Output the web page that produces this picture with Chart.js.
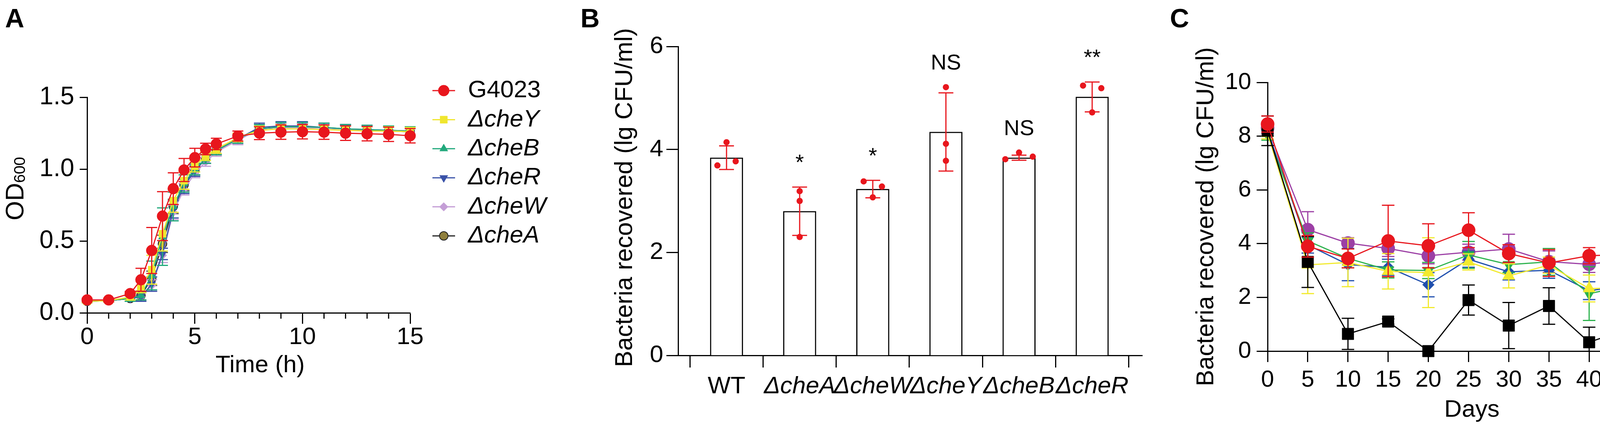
<!DOCTYPE html>
<html>
<head>
<meta charset="utf-8">
<script src="https://cdn.jsdelivr.net/npm/chart.js@4.4.0/dist/chart.umd.min.js"></script>
<style>
  body { margin: 0; background: #fff; width: 4562px; height: 1101px; overflow: hidden; position: relative; }
  canvas { position: absolute; top: 0; }
  .panel { position: absolute; top: 12px; font: bold 68px 'Liberation Sans', Arial, sans-serif; line-height: 1; }
</style>
</head>
<body>
<div class="panel" style="left:13px">A</div>
<div class="panel" style="left:1486px">B</div>
<div class="panel" style="left:2995px">C</div>
<canvas id="chartA" width="1480" height="1101" style="left:0px"></canvas>
<canvas id="chartB" width="1520" height="1101" style="left:1480px"></canvas>
<canvas id="chartC" width="1562" height="1101" style="left:3000px"></canvas>
<script>
const FONT = "'Liberation Sans', Arial, sans-serif";

// ---- panel A: growth curves ----
const timeA = [0, 1, 2, 2.5, 3, 3.5, 4, 4.5, 5, 5.5, 6, 7, 8, 9, 10, 11, 12, 13, 14, 15];
const xTicksA = [0, 5, 10, 15];
const yTicksA = [0, 0.5, 1.0, 1.5];
const yTickLabelsA = ['0.0', '0.5', '1.0', '1.5'];
const odG4023 = [0.09, 0.09, 0.134, 0.23, 0.434, 0.673, 0.864, 0.994, 1.08, 1.14, 1.175, 1.23, 1.25, 1.257, 1.26, 1.257, 1.25, 1.246, 1.242, 1.232];
const sdG4023 = [0.01, 0.01, 0.015, 0.08, 0.16, 0.17, 0.11, 0.08, 0.065, 0.04, 0.04, 0.035, 0.045, 0.05, 0.05, 0.05, 0.05, 0.05, 0.05, 0.05];
const odCheY = [0.08, 0.085, 0.11, 0.18, 0.30, 0.55, 0.78, 0.92, 1.02, 1.09, 1.14, 1.22, 1.27, 1.28, 1.28, 1.275, 1.27, 1.265, 1.265, 1.26];
const sdCheY = [0.01, 0.01, 0.02, 0.04, 0.10, 0.12, 0.08, 0.06, 0.04, 0.03, 0.03, 0.03, 0.03, 0.03, 0.03, 0.03, 0.03, 0.03, 0.03, 0.03];
const odCheB = [0.08, 0.085, 0.10, 0.12, 0.26, 0.53, 0.74, 0.90, 1.00, 1.07, 1.13, 1.21, 1.28, 1.295, 1.295, 1.29, 1.28, 1.275, 1.27, 1.265];
const sdCheB = [0.01, 0.01, 0.02, 0.03, 0.10, 0.20, 0.10, 0.06, 0.04, 0.03, 0.03, 0.03, 0.03, 0.03, 0.03, 0.03, 0.03, 0.03, 0.03, 0.03];
const odCheR = [0.08, 0.085, 0.10, 0.11, 0.20, 0.41, 0.72, 0.88, 0.99, 1.07, 1.13, 1.21, 1.29, 1.30, 1.30, 1.29, 1.28, 1.275, 1.27, 1.265];
const sdCheR = [0.01, 0.01, 0.02, 0.03, 0.05, 0.04, 0.06, 0.05, 0.04, 0.03, 0.03, 0.03, 0.03, 0.03, 0.03, 0.03, 0.03, 0.03, 0.03, 0.03];
const odCheW = [0.08, 0.085, 0.10, 0.11, 0.19, 0.40, 0.70, 0.86, 0.97, 1.05, 1.12, 1.20, 1.28, 1.29, 1.29, 1.285, 1.28, 1.27, 1.265, 1.26];
const sdCheW = [0.01, 0.01, 0.02, 0.03, 0.04, 0.05, 0.05, 0.04, 0.03, 0.03, 0.03, 0.03, 0.03, 0.03, 0.03, 0.03, 0.03, 0.03, 0.03, 0.03];
const odCheA = [0.08, 0.085, 0.10, 0.12, 0.24, 0.48, 0.74, 0.89, 0.99, 1.07, 1.13, 1.21, 1.28, 1.29, 1.29, 1.285, 1.28, 1.27, 1.265, 1.26];
const sdCheA = [0.01, 0.01, 0.02, 0.03, 0.05, 0.06, 0.05, 0.04, 0.03, 0.03, 0.03, 0.03, 0.03, 0.03, 0.03, 0.03, 0.03, 0.03, 0.03, 0.03];

// ---- panel B: bars with replicates ----
const strainsB = ['WT', 'ΔcheA', 'ΔcheW', 'ΔcheY', 'ΔcheB', 'ΔcheR'];
const meanB = [3.84, 2.80, 3.23, 4.34, 3.84, 5.02];
const sdB = [0.23, 0.47, 0.17, 0.76, 0.05, 0.29];
const repB = [[4.14, 3.69, 3.77], [3.19, 3.00, 2.30], [3.38, 3.28, 3.07], [5.21, 4.11, 3.78], [3.81, 3.94, 3.86], [5.24, 5.19, 4.72]];
const jitterB = [[0, -1, 1], [0, 0, 0], [-1, 1, 0], [0, 0, 0], [-1.5, 0, 1.5], [-1, 1, 0]];
const sigB = ['', '*', '*', 'NS', 'NS', '**'];
const yTicksB = [0, 2, 4, 6];

// ---- panel C: survival over days ----
const daysC = [0, 5, 10, 15, 20, 25, 30, 35, 40, 45, 50];
const yTicksC = [0, 2, 4, 6, 8, 10];
const cfuG4023 = [8.45, 3.90, 3.45, 4.10, 3.92, 4.50, 3.63, 3.28, 3.55, 3.60, 3.58];
const errG4023 = [0.30, 0.40, 0.35, 1.33, 0.82, 0.65, 0.33, 0.50, 0.30, 0.25, 0.40];
const cfuCheA = [8.20, 3.32, 0.64, 1.10, 0.00, 1.90, 0.95, 1.68, 0.33, 0.85, 0.65];
const errCheA = [0.55, 0.95, 0.58, 0.10, 0, 0.56, 0.86, 0.68, 0.56, 0.74, 0.58];
const cfuCheW = [8.10, 3.21, 3.30, 2.97, 2.92, 3.32, 2.80, 3.20, 2.33, 2.36, 1.71];
const errCheW = [0.20, 1.07, 0.90, 0.66, 1.30, 0.30, 0.45, 0.30, 0.50, 0.50, 0.30];
const cfuCheY = [8.05, 4.10, 3.45, 3.02, 3.00, 3.58, 3.22, 3.32, 2.14, 2.45, 2.60];
const errCheY = [0.20, 0.30, 0.35, 0.30, 0.30, 0.50, 0.30, 0.50, 1.00, 0.57, 0.40];
const cfuCheB = [8.20, 3.95, 3.22, 3.12, 2.47, 3.42, 2.95, 3.01, 2.25, 2.44, 1.99];
const errCheB = [0.20, 0.30, 0.60, 0.30, 0.45, 0.30, 0.30, 0.30, 0.33, 0.30, 0.35];
const cfuCheR = [8.30, 4.52, 4.02, 3.82, 3.55, 3.68, 3.80, 3.33, 3.23, 3.42, 3.37];
const errCheR = [0.20, 0.67, 0.20, 0.30, 0.30, 0.30, 0.55, 0.40, 0.30, 0.30, 0.85];

const toXY = (xs, ys) => xs.map((x, i) => ({ x: x, y: ys[i] }));

// error bars drawn just before (or after) their dataset
function drawErrors(chart, ds) {
  const xs = chart.scales.x, ys = chart.scales.y, ctx = chart.ctx;
  const half = ds.errorCap;
  ctx.save();
  ctx.strokeStyle = ds.errorColor || ds.borderColor;
  ctx.lineWidth = 3;
  ds.errors.forEach((e, i) => {
    if (!e) return;
    const p = ds.data[i];
    const x = xs.getPixelForValue(p.x);
    const yTop = ys.getPixelForValue(p.y + e);
    let low = p.y - e;
    const cut = low < ys.min;
    if (cut) low = ys.min;
    const yBot = ys.getPixelForValue(low);
    ctx.beginPath();
    ctx.moveTo(x, yTop); ctx.lineTo(x, yBot);
    ctx.moveTo(x - half, yTop); ctx.lineTo(x + half, yTop);
    if (!cut) { ctx.moveTo(x - half, yBot); ctx.lineTo(x + half, yBot); }
    ctx.stroke();
  });
  ctx.restore();
}
const errorBars = {
  id: 'errorBars',
  beforeDatasetDraw(chart, args) {
    const ds = chart.data.datasets[args.index];
    if (ds.errors && !ds.errorAfter) drawErrors(chart, ds);
  },
  afterDatasetDraw(chart, args) {
    const ds = chart.data.datasets[args.index];
    if (ds.errors && ds.errorAfter) drawErrors(chart, ds);
  }
};

// legend: short line with marker, then label
const lineLegend = {
  id: 'lineLegend',
  afterDraw(chart, args, opts) {
    const ctx = chart.ctx;
    chart.data.datasets.forEach((ds, i) => {
      const y = opts.y0 + i * opts.dy;
      ctx.save();
      ctx.strokeStyle = ds.borderColor;
      ctx.lineWidth = 3;
      ctx.beginPath();
      ctx.moveTo(opts.x - opts.half, y); ctx.lineTo(opts.x + opts.half, y);
      ctx.stroke();
      ctx.fillStyle = ds.pointBackgroundColor;
      ctx.strokeStyle = ds.pointBorderColor;
      ctx.lineWidth = ds.pointBorderWidth;
      Chart.helpers.drawPoint(ctx, {
        pointStyle: ds.pointStyle, radius: ds.pointRadius,
        rotation: ds.pointRotation || 0, borderWidth: ds.pointBorderWidth
      }, opts.x, y);
      ctx.fillStyle = '#000';
      ctx.font = (ds.label.startsWith('Δ') ? 'italic ' : '') + opts.size + 'px ' + FONT;
      ctx.textAlign = 'left';
      ctx.textBaseline = 'middle';
      ctx.fillText(ds.label, opts.textX, y);
      ctx.restore();
    });
  }
};

function axisStyle(tickLen, pad, size) {
  return {
    grid: { drawOnChartArea: false, drawTicks: true, tickLength: tickLen, tickWidth: 3, tickColor: '#000', color: '#000' },
    border: { display: true, color: '#000', width: 3 },
    ticks: { color: '#000', padding: pad, font: { family: FONT, size: size, lineHeight: 1 }, maxRotation: 0, autoSkip: false }
  };
}

function lineSet(label, xs, ys, errs, color, style, radius, extra) {
  return Object.assign({
    label: label, data: toXY(xs, ys), errors: errs, errorCap: 14,
    borderColor: color, borderWidth: 3, tension: 0, clip: false,
    pointStyle: style, pointRadius: radius, pointHoverRadius: radius,
    pointBackgroundColor: color, pointBorderColor: color, pointBorderWidth: 1
  }, extra || {});
}

// ---------- chart A ----------
const minorTicksA = {
  id: 'minorTicksA',
  afterDraw(chart) {
    const xs = chart.scales.x, ctx = chart.ctx, y0 = chart.chartArea.bottom;
    ctx.save();
    ctx.strokeStyle = '#000';
    ctx.lineWidth = 3;
    for (let h = xs.min; h <= xs.max; h++) {
      if (h % 5 === 0) continue;
      const x = xs.getPixelForValue(h);
      ctx.beginPath(); ctx.moveTo(x, y0); ctx.lineTo(x, y0 + 15); ctx.stroke();
    }
    ctx.fillStyle = '#000';
    ctx.font = '62px ' + FONT;
    ctx.textAlign = 'center';
    ctx.textBaseline = 'middle';
    ctx.fillText('Time (h)', 666, 936);
    // OD600 vertical title
    ctx.translate(60, 483);
    ctx.rotate(-Math.PI / 2);
    ctx.textAlign = 'left';
    ctx.textBaseline = 'alphabetic';
    ctx.font = '64px ' + FONT;
    const w = ctx.measureText('OD').width;
    ctx.font = '40px ' + FONT;
    const w2 = ctx.measureText('600').width;
    ctx.font = '64px ' + FONT;
    ctx.fillText('OD', -(w + w2) / 2, 0);
    ctx.font = '40px ' + FONT;
    ctx.fillText('600', -(w + w2) / 2 + w, 4);
    ctx.restore();
  }
};

const axA_x = axisStyle(28, 4, 62);
const axA_y = axisStyle(19, 14, 64);
axA_x.ticks.callback = (v, i) => String(xTicksA[i]);
axA_y.ticks.callback = (v, i) => yTickLabelsA[i];
new Chart(document.getElementById('chartA'), {
  type: 'line',
  data: {
    datasets: [
      lineSet('G4023', timeA, odG4023, sdG4023, '#E8161D', 'circle', 14),
      lineSet('ΔcheY', timeA, odCheY, sdCheY, '#F0E62E', 'rect', 13),
      lineSet('ΔcheB', timeA, odCheB, sdCheB, '#22A97C', 'triangle', 12),
      lineSet('ΔcheR', timeA, odCheR, sdCheR, '#3A52A8', 'triangle', 12, { pointRotation: 180 }),
      lineSet('ΔcheW', timeA, odCheW, sdCheW, '#C49ED6', 'rectRot', 11),
      lineSet('ΔcheA', timeA, odCheA, sdCheA, '#222222', 'circle', 11,
        { pointBackgroundColor: '#8F7F3C', pointBorderColor: '#222222', pointBorderWidth: 2, errorColor: '#555' })
    ]
  },
  options: {
    responsive: false, animation: false, devicePixelRatio: 1,
    layout: { autoPadding: false, padding: { left: 0, top: 249, right: 430, bottom: 0 } },
    plugins: {
      legend: { display: false }, tooltip: { enabled: false },
      lineLegend: { x: 1136, half: 29, textX: 1198, y0: 232, dy: 74.4, size: 62 }
    },
    scales: {
      x: Object.assign(axA_x, {
        type: 'linear', min: 0, max: 15,
        afterBuildTicks: s => { s.ticks = xTicksA.map(v => ({ value: v })); },
        afterFit: s => { s.height = 300; }
      }),
      y: Object.assign(axA_y, {
        type: 'linear', min: 0, max: 1.5,
        afterBuildTicks: s => { s.ticks = yTicksA.map(v => ({ value: v })); },
        afterFit: s => { s.width = 223; }
      })
    }
  },
  plugins: [errorBars, lineLegend, minorTicksA]
});

// ---------- chart B ----------
const repPoints = [];
strainsB.forEach((s, i) => repB[i].forEach((v, j) => repPoints.push({ x: i + jitterB[i][j] * 0.125, y: v })));

const sigLabelsB = {
  id: 'sigLabelsB',
  afterDraw(chart) {
    const xs = chart.scales.x, ys = chart.scales.y, ctx = chart.ctx;
    ctx.save();
    ctx.fillStyle = '#000';
    ctx.font = '56px ' + FONT;
    ctx.textAlign = 'center';
    ctx.textBaseline = 'alphabetic';
    sigB.forEach((t, i) => {
      if (!t) return;
      const top = Math.max(meanB[i] + sdB[i], ...repB[i]);
      ctx.fillText(t, xs.getPixelForValue(i), ys.getPixelForValue(top) - 45);
    });
    ctx.font = '63px ' + FONT;
    ctx.textBaseline = 'middle';
    ctx.translate(121, 506);
    ctx.rotate(-Math.PI / 2);
    ctx.fillText('Bacteria recovered (lg CFU/ml)', 0, 0);
    ctx.restore();
  }
};

const axB_x = axisStyle(31, 18, 62);
const axB_y = axisStyle(30, 8, 62);
axB_x.ticks.font = ctx => ({ family: FONT, size: 62, lineHeight: 1, style: ctx.index === 0 ? 'normal' : 'italic' });
axB_x.ticks.callback = (v, i) => strainsB[i];
axB_y.ticks.callback = (v, i) => String(yTicksB[i]);
new Chart(document.getElementById('chartB'), {
  type: 'bar',
  data: {
    datasets: [
      {
        type: 'scatter', label: 'replicates', data: repPoints, order: 1, clip: false,
        pointRadius: 8, pointHoverRadius: 8, backgroundColor: '#E8161D', borderColor: '#E8161D', borderWidth: 0
      },
      {
        type: 'bar', label: 'mean', data: toXY(strainsB.map((s, i) => i), meanB), order: 2,
        backgroundColor: '#fff', borderColor: '#000', borderWidth: 3, barThickness: 84,
        errors: sdB, errorAfter: true, errorColor: '#E8161D', errorCap: 19
      }
    ]
  },
  options: {
    responsive: false, animation: false, devicePixelRatio: 1,
    layout: { autoPadding: false, padding: { left: 0, top: 119, right: 76, bottom: 0 } },
    plugins: { legend: { display: false }, tooltip: { enabled: false } },
    scales: {
      x: Object.assign(axB_x, {
        type: 'linear', min: -0.662, max: 5.684, offset: false,
        afterBuildTicks: s => { s.ticks = strainsB.map((c, i) => ({ value: i })); },
        afterFit: s => { s.height = 191; }
      }),
      y: Object.assign(axB_y, {
        type: 'linear', min: 0, max: 6,
        afterBuildTicks: s => { s.ticks = yTicksB.map(v => ({ value: v })); },
        afterFit: s => { s.width = 256; }
      })
    }
  },
  plugins: [errorBars, sigLabelsB]
});

// ---------- chart C ----------
const titlesC = {
  id: 'titlesC',
  afterDraw(chart) {
    const ctx = chart.ctx;
    ctx.save();
    ctx.fillStyle = '#000';
    ctx.font = '62px ' + FONT;
    ctx.textAlign = 'center';
    ctx.textBaseline = 'middle';
    ctx.fillText('Days', 768, 1050);
    ctx.font = '63px ' + FONT;
    ctx.translate(89, 555);
    ctx.rotate(-Math.PI / 2);
    ctx.fillText('Bacteria recovered (lg CFU/ml)', 0, 0);
    ctx.restore();
  }
};
const cap = { errorCap: 16 };
const axC_x = axisStyle(28, 16, 60);
const axC_y = axisStyle(28, 14, 60);
axC_x.ticks.callback = (v, i) => String(daysC[i]);
axC_y.ticks.callback = (v, i) => String(yTicksC[i]);
new Chart(document.getElementById('chartC'), {
  type: 'line',
  data: {
    datasets: [
      lineSet('G4023', daysC, cfuG4023, errG4023, '#E8161D', 'circle', 17, cap),
      lineSet('ΔcheA', daysC, cfuCheA, errCheA, '#000000', 'rect', 21, cap),
      lineSet('ΔcheW', daysC, cfuCheW, errCheW, '#F2EA2E', 'triangle', 18, cap),
      lineSet('ΔcheY', daysC, cfuCheY, errCheY, '#2BB24C', 'triangle', 17, Object.assign({ pointRotation: 180 }, cap)),
      lineSet('ΔcheB', daysC, cfuCheB, errCheB, '#1F4FAE', 'rectRot', 15, cap),
      lineSet('ΔcheR', daysC, cfuCheR, errCheR, '#9C3FA5', 'circle', 17, cap)
    ]
  },
  options: {
    responsive: false, animation: false, devicePixelRatio: 1,
    layout: { autoPadding: false, padding: { left: 0, top: 211, right: 288, bottom: 0 } },
    plugins: {
      legend: { display: false }, tooltip: { enabled: false },
      lineLegend: { x: 1256, half: 37, textX: 1338, y0: 63, dy: 92, size: 62 }
    },
    scales: {
      x: Object.assign(axC_x, {
        type: 'linear', min: 0, max: 50,
        afterBuildTicks: s => { s.ticks = daysC.map(v => ({ value: v })); },
        afterFit: s => { s.height = 202; }
      }),
      y: Object.assign(axC_y, {
        type: 'linear', min: 0, max: 10,
        afterBuildTicks: s => { s.ticks = yTicksC.map(v => ({ value: v })); },
        afterFit: s => { s.width = 245; }
      })
    }
  },
  plugins: [errorBars, lineLegend, titlesC]
});
</script>
</body>
</html>
